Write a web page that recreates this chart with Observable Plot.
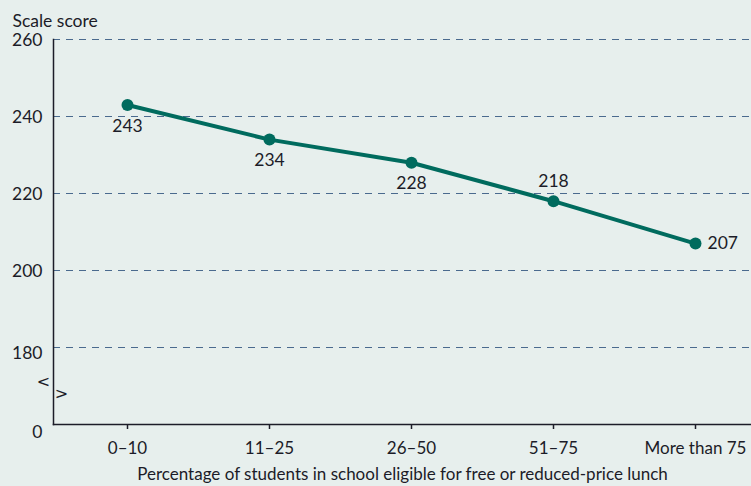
<!DOCTYPE html>
<html>
<head>
<meta charset="utf-8">
<script src="https://cdn.jsdelivr.net/npm/d3@7"></script>
<script src="https://cdn.jsdelivr.net/npm/@observablehq/plot@0.6"></script>
<style>
  html, body { margin: 0; padding: 0; background: #e7efed; }
  #chart svg { display: block; }
</style>
</head>
<body>
<div id="chart"></div>
<script>
// Average scale score by school lunch-eligibility band
const categories = ["0–10", "11–25", "26–50", "51–75", "More than 75"];
const scores = [243, 234, 228, 218, 207];
const gridTicks = [180, 200, 220, 240, 260];
// The axis is broken below 180; this value stands for the "0" baseline
const axisFloor = 160;

const data = categories.map((c, i) => ({category: c, score: scores[i], i}));

const ink = "#1c1c28";
const teal = "#006b5e";
const font = "Lato, 'Noto Sans', sans-serif";

const chart = Plot.plot({
  width: 751,
  height: 486,
  marginLeft: 53,
  marginRight: 0,
  marginTop: 39,
  marginBottom: 62,
  style: {background: "#e7efed", fontFamily: font, fontSize: "17px", color: ink},
  x: {type: "point", domain: categories, padding: 0, insetLeft: 72, insetRight: 55},
  y: {domain: [axisFloor, 260]},
  marks: [
    // dashed grid
    Plot.ruleY(gridTicks, {stroke: "#4a6a8e", strokeWidth: 1.2, strokeDasharray: "7,6"}),
    // axis lines
    Plot.frame({anchor: "left", stroke: ink, strokeWidth: 1.5}),
    Plot.frame({anchor: "bottom", stroke: ink, strokeWidth: 1.5}),
    // y tick labels
    Plot.axisY([200, 220, 240, 260], {tickSize: 0, tickPadding: 11, label: null, fontSize: 17.5, dy: 1}),
    Plot.axisY([180], {tickSize: 0, tickPadding: 11, label: null, fontSize: 17.5, dy: 6}),
    Plot.axisY([axisFloor], {tickSize: 0, tickPadding: 11, label: null, fontSize: 17.5, dy: 8, tickFormat: () => "0"}),
    // axis break symbol
    Plot.text(["<"], {frameAnchor: "bottom-left", dx: -10, dy: -38, textAnchor: "middle", fontSize: 16, fontFamily: "DejaVu Sans"}),
    Plot.text([">"], {frameAnchor: "bottom-left", dx: 8, dy: -26, textAnchor: "middle", fontSize: 16, fontFamily: "DejaVu Sans"}),
    // y axis title
    Plot.text(["Scale score"], {frameAnchor: "top-left", dx: -41, dy: -25, textAnchor: "start", fontSize: 17.5}),
    // x axis
    Plot.axisX({tickSize: 5, tickPadding: 12, fontSize: 17, stroke: ink, strokeWidth: 1.5,
      label: "Percentage of students in school eligible for free or reduced-price lunch",
      labelAnchor: "center", labelOffset: 55, labelArrow: "none"}),
    // series
    Plot.line(data, {x: "category", y: "score", stroke: teal, strokeWidth: 4}),
    Plot.dot(data, {x: "category", y: "score", r: 6, fill: teal}),
    // value labels
    Plot.text(data.filter(d => d.i < 3), {x: "category", y: "score", text: d => String(d.score), dy: 21, fontSize: 17.5, fill: ink}),
    Plot.text(data.filter(d => d.i === 3), {x: "category", y: "score", text: d => String(d.score), dy: -20, fontSize: 17.5, fill: ink}),
    Plot.text(data.filter(d => d.i === 4), {x: "category", y: "score", text: d => String(d.score), dx: 12, textAnchor: "start", fontSize: 17.5, fill: ink})
  ]
});

document.getElementById("chart").appendChild(chart);
</script>
</body>
</html>
